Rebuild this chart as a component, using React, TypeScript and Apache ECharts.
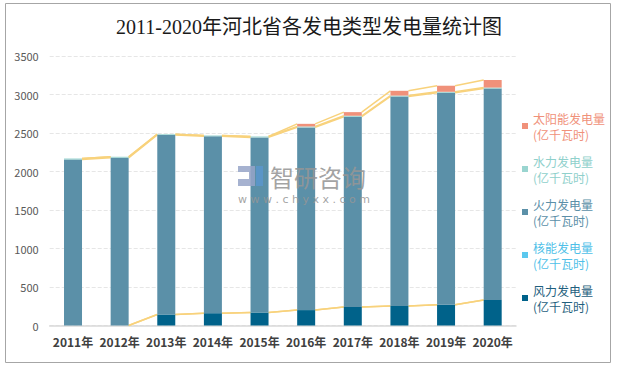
import React, { useEffect, useRef } from "react";
import * as echarts from "echarts";

const years = ["2011年", "2012年", "2013年", "2014年", "2015年", "2016年", "2017年", "2018年", "2019年", "2020年"];
const wind = [0, 0, 143, 160, 169, 200, 241, 254, 270, 332];
const nuclear = [0, 0, 0, 0, 0, 0, 0, 0, 0, 0];
const thermal = [2156, 2178, 2332, 2297, 2274, 2373, 2470, 2720, 2753, 2745];
const hydro = [13, 12, 10, 11, 12, 12, 13, 12, 12, 13];
const solar = [0, 0, 0, 0, 0, 34, 47, 62, 79, 98];
const yTicks = [0, 500, 1000, 1500, 2000, 2500, 3000, 3500];

const seriesDefs = [
  { name: "风力发电量", data: wind, color: "#00628a", text: "#1f5f7e" },
  { name: "核能发电量", data: nuclear, color: "#5bc8ee", text: "#4fbfe8" },
  { name: "火力发电量", data: thermal, color: "#5b90a8", text: "#5b8fa8" },
  { name: "水力发电量", data: hydro, color: "#9ad5d0", text: "#8fd0cb" },
  { name: "太阳能发电量", data: solar, color: "#f0917a", text: "#f0917a" },
];

const CJK = '"Noto Sans CJK SC", "Microsoft YaHei", sans-serif';
const BAR_W = 18;

export default function App() {
  const ref = useRef<HTMLDivElement>(null);
  useEffect(() => {
    if (!ref.current) return;
    const chart = echarts.init(ref.current, null, { renderer: "svg" });

    // cumulative stack levels for Excel-style series lines
    const cumLevels: number[][] = [];
    let acc = years.map(() => 0);
    seriesDefs.forEach((s) => {
      acc = acc.map((v, i) => v + s.data[i]);
      cumLevels.push(acc.slice());
    });

    const lineSeries = cumLevels.map((c, k) => ({
      type: "custom",
      name: "line" + k,
      z: 1,
      silent: true,
      encode: { x: 0, y: 1 },
      data: c.slice(0, c.length - 1).map((v, i) => [i, v, c[i + 1]]),
      renderItem: (params: any, api: any) => {
        const i = api.value(0);
        const v1 = api.value(1);
        const v2 = api.value(2);
        if (v1 === 0 && v2 === 0) return null;
        const a = api.coord([i, v1]);
        const b = api.coord([i + 1, v2]);
        const hw = BAR_W / 2;
        return {
          type: "line",
          shape: { x1: a[0] + hw, y1: a[1], x2: b[0] - hw, y2: b[1] },
          style: { stroke: "#f8d27c", lineWidth: 1.5 },
        };
      },
    }));

    const barSeries = seriesDefs.map((s) => ({
      type: "bar",
      name: s.name,
      stack: "total",
      barWidth: BAR_W,
      z: 2,
      itemStyle: { color: s.color },
      data: s.data,
    }));

    const legendOrder = [...seriesDefs].reverse();
    const wm = "rgba(150,150,150,0.88)";
    const logoA = "rgba(150,165,200,0.85)";
    const logoB = "rgba(90,150,205,0.85)";

    chart.setOption({
      animation: false,
      title: {
        text: "2011-2020年河北省各发电类型发电量统计图",
        left: "center",
        top: 12,
        textStyle: {
          fontSize: 20,
          fontWeight: "normal",
          color: "#1a1a1a",
          fontFamily: '"Liberation Serif", "Noto Sans CJK SC", serif',
        },
      },
      legend: {
        orient: "vertical",
        left: 522,
        top: 102,
        padding: 0,
        itemWidth: 6,
        itemHeight: 6,
        itemGap: -5,
        icon: "rect",
        selectedMode: false,
        formatter: (n: string) => n + "\n(亿千瓦时)",
        textStyle: { fontSize: 12, lineHeight: 16, fontFamily: CJK, padding: [16, 0, 0, 0] },
        data: legendOrder.map((s) => ({ name: s.name, textStyle: { color: s.text } })),
      },
      grid: { left: 49.7, right: 102, top: 56, bottom: 44.5, containLabel: false },
      xAxis: {
        type: "category",
        data: years,
        axisTick: { show: false },
        axisLine: { lineStyle: { color: "#d9d9d9", width: 1.5 } },
        axisLabel: { fontSize: 12, fontWeight: "bold", color: "#404040", margin: 10, fontFamily: CJK, interval: 0 },
      },
      yAxis: {
        type: "value",
        min: yTicks[0],
        max: yTicks[yTicks.length - 1],
        interval: yTicks[1] - yTicks[0],
        axisLine: { show: false },
        axisTick: { show: false },
        axisLabel: { fontSize: 11, color: "#595959", margin: 11, fontFamily: CJK, formatter: (v: number) => String(v) },
        splitLine: { lineStyle: { color: "#e6e6e6", type: "dashed" } },
      },
      graphic: [
        {
          type: "rect",
          shape: { x: 5.5, y: 3.5, width: 605, height: 359 },
          style: { fill: "none", stroke: "#a6a6a6", lineWidth: 1 },
          z: 0,
          silent: true,
        },
        { type: "rect", zlevel: 1, z: 100, silent: true, shape: { x: 238, y: 166, width: 17, height: 6 }, style: { fill: logoA } },
        { type: "rect", zlevel: 1, z: 100, silent: true, shape: { x: 249, y: 172, width: 6, height: 7 }, style: { fill: logoA } },
        { type: "rect", zlevel: 1, z: 100, silent: true, shape: { x: 238, y: 179, width: 17, height: 7 }, style: { fill: logoA } },
        { type: "rect", zlevel: 1, z: 100, silent: true, shape: { x: 256, y: 166, width: 7, height: 20 }, style: { fill: logoB } },
        {
          type: "text",
          zlevel: 1,
          z: 100,
          silent: true,
          x: 270,
          y: 176,
          style: { text: "智研咨询", fontSize: 24, fontFamily: CJK, fill: wm, verticalAlign: "middle", align: "left" },
        },
        {
          type: "text",
          zlevel: 1,
          z: 100,
          silent: true,
          x: 238,
          y: 199,
          style: { text: "w w w . c h y x x . c o m", fontSize: 11, fontFamily: '"DejaVu Sans", sans-serif', fill: wm, verticalAlign: "middle", align: "left" },
        },
      ],
      series: [...lineSeries, ...barSeries],
    });
    return () => chart.dispose();
  }, []);
  return <div ref={ref} style={{ position: "fixed", left: 0, top: 0, width: 618, height: 370, background: "#fff" }} />;
}
